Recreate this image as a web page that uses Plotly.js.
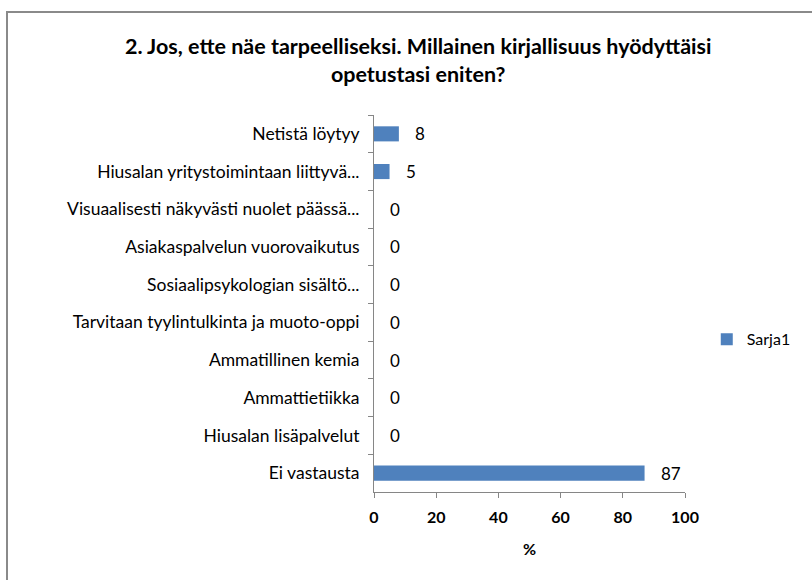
<!DOCTYPE html>
<html>
<head>
<meta charset="utf-8">
<script src="https://cdn.plot.ly/plotly-3.0.1.min.js"></script>
<style>
  html, body { margin: 0; padding: 0; background: #fff; }
  #frame { position: absolute; left: 6px; top: 11px; width: 820px; height: 600px;
           border-left: 2px solid #8a8a8a; border-top: 2px solid #8a8a8a; }
  #chart { position: absolute; left: 0; top: 0; width: 812px; height: 580px; }
</style>
</head>
<body>
<div id="frame"></div>
<div id="chart"></div>
<script>
const categories = [
  "Netistä löytyy",
  "Hiusalan yritystoimintaan liittyvä...",
  "Visuaalisesti näkyvästi nuolet päässä...",
  "Asiakaspalvelun vuorovaikutus",
  "Sosiaalipsykologian sisältö...",
  "Tarvitaan tyylintulkinta ja muoto-oppi",
  "Ammatillinen kemia",
  "Ammattietiikka",
  "Hiusalan lisäpalvelut",
  "Ei vastausta"
];
const values = [8, 5, 0, 0, 0, 0, 0, 0, 0, 87];
const seriesName = "Sarja1";
const xTicks = [0, 20, 40, 60, 80, 100];

const FONT = "Lato, Carlito, 'Open Sans', sans-serif";

const trace = {
  type: "bar",
  orientation: "h",
  name: seriesName,
  x: values,
  y: categories,
  marker: { color: "#4F81BD", line: { width: 0 } },
  hoverinfo: "x+y",
  showlegend: true
};

const annotations = values.map((v, i) => ({
  x: v, y: categories[i], xref: "x", yref: "y",
  text: String(v), showarrow: false, xanchor: "left", xshift: 14,
  font: { family: FONT, size: 17, color: "#000" }
}));

const layout = {
  width: 812, height: 580,
  paper_bgcolor: "rgba(0,0,0,0)",
  plot_bgcolor: "rgba(0,0,0,0)",
  margin: { l: 374, r: 127, t: 115, b: 88 },
  title: {
    text: "<b>2. Jos, ette näe tarpeelliseksi. Millainen kirjallisuus hyödyttäisi<br>opetustasi eniten?</b>",
    font: { family: FONT, size: 21.5, color: "#000" },
    x: 0.515, xanchor: "center", y: 0.907, yanchor: "middle"
  },
  bargap: 0.6,
  xaxis: {
    range: [0, 100],
    tickvals: xTicks,
    ticktext: xTicks.map(String),
    showgrid: false, zeroline: false,
    showline: true, linecolor: "#868686", linewidth: 1,
    ticks: "outside", ticklen: 5, tickcolor: "#868686",
    ticklabelstandoff: 6,
    tickfont: { family: FONT, size: 16, color: "#000", weight: "bold" },
    title: { text: "<b>%</b>", font: { family: FONT, size: 16, color: "#000" }, standoff: 18 },
    fixedrange: true
  },
  yaxis: {
    autorange: "reversed",
    type: "category",
    showgrid: false, zeroline: false,
    showline: true, linecolor: "#868686", linewidth: 1,
    ticks: "outside", ticklen: 5, tickcolor: "#868686",
    tickson: "boundaries",
    ticklabelstandoff: 10,
    tickfont: { family: FONT, size: 17.5, color: "#000" },
    fixedrange: true
  },
  legend: {
    x: 1.07, xanchor: "left", y: 0.405, yanchor: "middle",
    font: { family: FONT, size: 16, color: "#000" },
    itemwidth: 30
  },
  annotations: annotations
};

Plotly.newPlot("chart", [trace], layout, { displayModeBar: false, staticPlot: true });
</script>
</body>
</html>
